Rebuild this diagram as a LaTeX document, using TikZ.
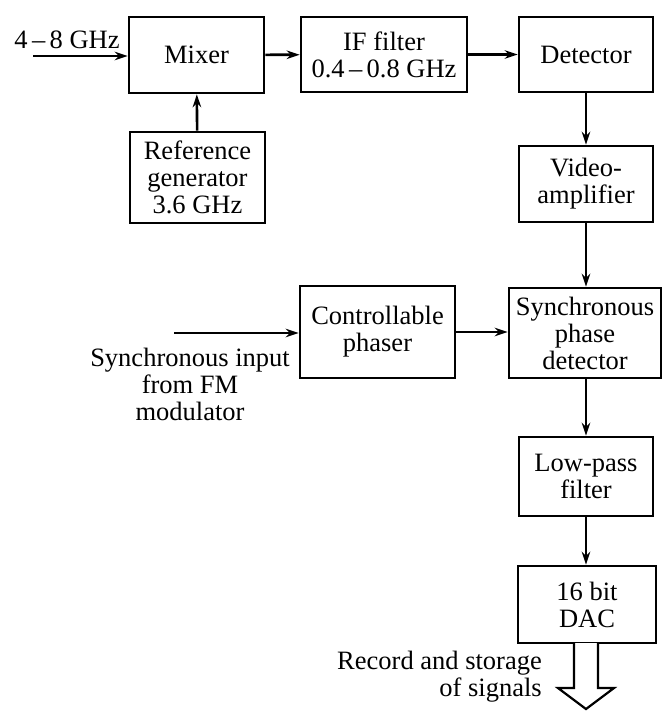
\documentclass[tikz,border=0pt]{standalone}
\usepackage{fontspec}
\setmainfont{Liberation Serif}
\usetikzlibrary{arrows.meta}
\begin{document}
\begin{tikzpicture}[x=1pt,y=-1pt,
  every node/.style={font=\fontsize{26.5}{27}\selectfont},
  blk/.style={draw,line width=2.7pt,align=center,inner sep=0pt,anchor=center},
  lbl/.style={inner sep=0pt},
  sig/.style={line width=2.6pt,-{Stealth[length=13pt,width=8.5pt]}}]
\useasboundingbox (0,0) rectangle (662,711);

% processing blocks
\node[blk,minimum width=135pt,minimum height=76pt] (mix) at (196.5,55) {Mixer};
\node[blk,minimum width=166pt,minimum height=75pt] (iff) at (384,54.5) {IF filter\\0.4\,\textendash\,0.8 GHz};
\node[blk,minimum width=134pt,minimum height=75pt] (det) at (586,54.5) {Detector};
\node[blk,minimum width=135pt,minimum height=91pt] (ref) at (197.5,177.5) {Reference\\generator\\3.6 GHz};
\node[blk,minimum width=134pt,minimum height=76pt] (vid) at (586,184) {Video-\\amplifier};
\node[blk,minimum width=155pt,minimum height=92pt] (pha) at (377.5,332) {Controllable\\phaser};
\node[blk,minimum width=152pt,minimum height=90pt] (spd) at (585,333) {Synchronous\\phase\\detector};
\node[blk,minimum width=134pt,minimum height=79pt] (lpf) at (586,476.5) {Low-pass\\filter};
\node[blk,minimum width=138pt,minimum height=77pt] (dac) at (587,604.5) {16 bit\\DAC};

% inputs and their labels
\coordinate (rfin) at (33,56);
\coordinate (syncin) at (174,333);
\node[lbl] (rflbl) at (67,40) {4\,\textendash\,8 GHz};
\node[lbl,align=center] (synclbl) at (190,384) {Synchronous input\\from FM\\modulator};

% signal path
\draw[sig] (rfin) -- (mix.west |- rfin);
\draw[sig] (ref) -- (mix);
\draw[sig] (mix) -- (iff);
\draw[sig] (iff) -- (det);
\draw[sig] (det) -- (vid);
\draw[sig] (vid) -- (vid |- spd.north);
\draw[sig] (syncin) -- (pha.west |- syncin);
\draw[sig] (pha) -- (spd.west |- pha);
\draw[sig] (spd.south -| vid) -- (lpf.north -| vid);
\draw[sig] (lpf.south -| vid) -- (dac.north -| vid);

% hollow output arrow
\coordinate (outtop) at (586,643);
\draw[line width=2.2pt,line join=miter,fill=white]
  ([xshift=-12pt]outtop) -- ++(0,45) -- ++(-16,0) -- (586,709)
  -- (614,688) -- ++(-16,0) -- ([xshift=12pt]outtop);
\node[lbl,align=right,anchor=east] (outlbl) at (542,677) {Record and storage\\of signals};
\end{tikzpicture}
\end{document}
